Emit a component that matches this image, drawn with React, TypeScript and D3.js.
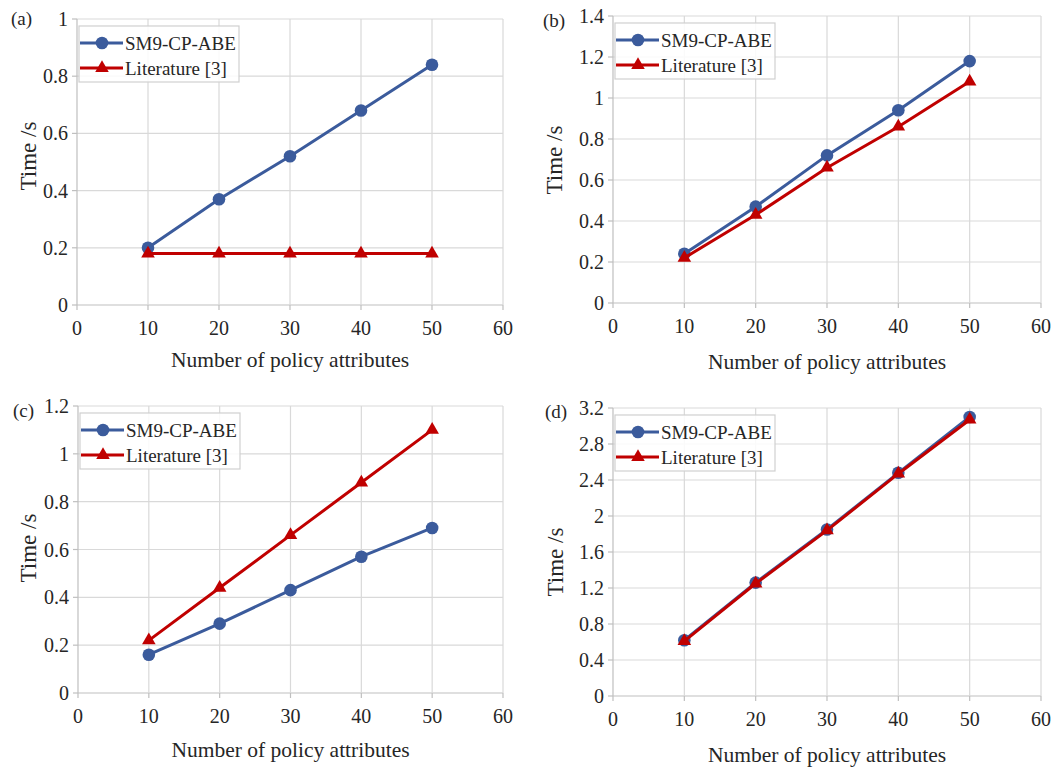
import * as d3 from "d3";
import React from "react";

const attrs = [10, 20, 30, 40, 50];
const xTicks = [0, 10, 20, 30, 40, 50, 60];

const sm9A = [0.2, 0.37, 0.52, 0.68, 0.84];
const litA = [0.18, 0.18, 0.18, 0.18, 0.18];
const sm9B = [0.24, 0.47, 0.72, 0.94, 1.18];
const litB = [0.22, 0.43, 0.66, 0.86, 1.08];
const sm9C = [0.16, 0.29, 0.43, 0.57, 0.69];
const litC = [0.22, 0.44, 0.66, 0.88, 1.1];
const sm9D = [0.62, 1.26, 1.85, 2.48, 3.1];
const litD = [0.61, 1.25, 1.84, 2.47, 3.07];

const ticksA = [0, 0.2, 0.4, 0.6, 0.8, 1];
const ticksB = [0, 0.2, 0.4, 0.6, 0.8, 1, 1.2, 1.4];
const ticksC = [0, 0.2, 0.4, 0.6, 0.8, 1, 1.2];
const ticksD = [0, 0.4, 0.8, 1.2, 1.6, 2, 2.4, 2.8, 3.2];

const seriesNames = ["SM9-CP-ABE", "Literature [3]"];
const BLUE = "#3b5b9c";
const RED = "#c00000";
const FONT = "Liberation Serif";

type PanelProps = {
  label: string;
  sm9: number[];
  lit: number[];
  yTicks: number[];
  left: number;
  right: number;
  top: number;
  bottom: number;
  labelPos: [number, number];
  yTitle: [number, number];
  xTitleY: number;
};

const tri = d3.symbol().type(d3.symbolTriangle).size(80);

const Panel = ({ label, sm9, lit, yTicks, left, right, top, bottom, labelPos, yTitle, xTitleY }: PanelProps) => {
  const x = d3.scaleLinear().domain([0, 60]).range([left, right]);
  const y = d3
    .scaleLinear()
    .domain([0, yTicks[yTicks.length - 1]])
    .range([bottom, top]);
  const line = d3
    .line<number>()
    .x((_, i) => x(attrs[i]))
    .y((d) => y(d));
  const fmt = (v: number) => String(+v.toFixed(1));
  const lg = { x: left + 2, y: top + 7, w: 160, h: 56 };

  return (
    <g style={{ fontFamily: FONT }} fill="#262626">
      {/* grid */}
      {yTicks.map((t) => (
        <line key={"gy" + t} x1={left} x2={right} y1={y(t)} y2={y(t)} stroke={t === 0 ? "#bfbfbf" : "#d9d9d9"} strokeWidth={1.2} />
      ))}
      {xTicks.map((t) => (
        <line key={"gx" + t} x1={x(t)} x2={x(t)} y1={top} y2={bottom} stroke={t === 0 ? "#bfbfbf" : "#d9d9d9"} strokeWidth={1.2} />
      ))}
      {yTicks.map((t) => (
        <line key={"ty" + t} x1={left - 5} x2={left} y1={y(t)} y2={y(t)} stroke="#bfbfbf" strokeWidth={1.2} />
      ))}
      {xTicks.map((t) => (
        <line key={"tx" + t} x1={x(t)} x2={x(t)} y1={bottom} y2={bottom + 5} stroke="#bfbfbf" strokeWidth={1.2} />
      ))}
      {/* tick labels */}
      {yTicks.map((t) => (
        <text key={"ly" + t} x={left - 9} y={y(t)} dy="0.35em" textAnchor="end" fontSize={20}>
          {fmt(t)}
        </text>
      ))}
      {xTicks.map((t) => (
        <text key={"lx" + t} x={x(t)} y={bottom + 30} textAnchor="middle" fontSize={20}>
          {t}
        </text>
      ))}
      {/* titles */}
      <text x={(left + right) / 2} y={xTitleY} textAnchor="middle" fontSize={21.5}>
        Number of policy attributes
      </text>
      <text transform={`translate(${yTitle[0]},${yTitle[1]}) rotate(-90)`} textAnchor="middle" fontSize={23}>
        Time /s
      </text>
      <text x={labelPos[0]} y={labelPos[1]} fontSize={19}>
        {label}
      </text>
      {/* series */}
      <path d={line(sm9) ?? ""} fill="none" stroke={BLUE} strokeWidth={3} />
      {sm9.map((v, i) => (
        <circle key={"c" + i} cx={x(attrs[i])} cy={y(v)} r={6.3} fill={BLUE} />
      ))}
      <path d={line(lit) ?? ""} fill="none" stroke={RED} strokeWidth={3} />
      {lit.map((v, i) => (
        <path key={"t" + i} d={tri() ?? ""} transform={`translate(${x(attrs[i])},${y(v)})`} fill={RED} />
      ))}
      {/* legend */}
      <rect x={lg.x} y={lg.y} width={lg.w} height={lg.h} fill="#fff" fillOpacity={0.85} stroke="#d0d0d0" strokeWidth={1.2} />
      {seriesNames.map((n, i) => {
        const cy = lg.y + 17 + i * 25;
        return (
          <g key={n}>
            <line x1={lg.x + 1} x2={lg.x + 44} y1={cy} y2={cy} stroke={i === 0 ? BLUE : RED} strokeWidth={3} />
            {i === 0 ? (
              <circle cx={lg.x + 23} cy={cy} r={6.3} fill={BLUE} />
            ) : (
              <path d={tri() ?? ""} transform={`translate(${lg.x + 23},${cy})`} fill={RED} />
            )}
            <text x={lg.x + 46} y={cy} dy="0.35em" fontSize={19}>
              {n}
            </text>
          </g>
        );
      })}
    </g>
  );
};

export default function App() {
  return (
    <svg width={1058} height={767} style={{ position: "absolute", left: 0, top: 0, background: "#fff" }}>
      <rect width={1058} height={767} fill="#fff" />
      <Panel label="(a)" sm9={sm9A} lit={litA} yTicks={ticksA} left={77} right={503} top={19} bottom={305} labelPos={[11, 25]} yTitle={[36, 156]} xTitleY={367} />
      <Panel label="(b)" sm9={sm9B} lit={litB} yTicks={ticksB} left={613} right={1041} top={16} bottom={303} labelPos={[543, 27]} yTitle={[562, 160]} xTitleY={369} />
      <Panel label="(c)" sm9={sm9C} lit={litC} yTicks={ticksC} left={78} right={503} top={406} bottom={693} labelPos={[13, 417]} yTitle={[36, 548]} xTitleY={757} />
      <Panel label="(d)" sm9={sm9D} lit={litD} yTicks={ticksD} left={613} right={1041} top={408} bottom={696} labelPos={[545, 418]} yTitle={[563, 562]} xTitleY={762} />
    </svg>
  );
}
